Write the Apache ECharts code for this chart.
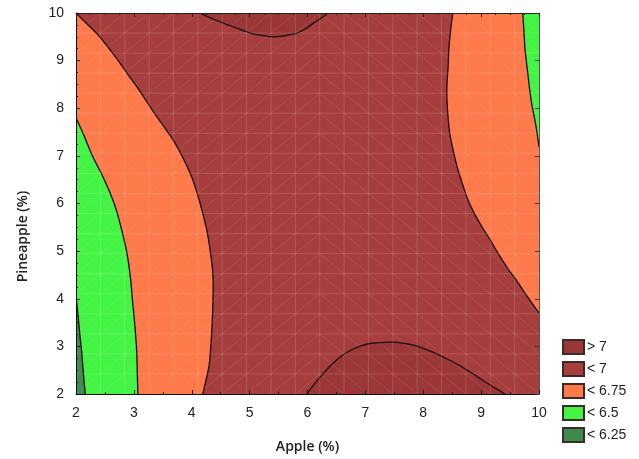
<!DOCTYPE html>
<html>
<head>
<meta charset="utf-8">
<script src="https://cdn.jsdelivr.net/npm/echarts@6/dist/echarts.min.js"></script>
<style>html,body{margin:0;padding:0;background:#fff}#c{width:639px;height:459px}</style>
</head>
<body>
<div id="c"></div>
<script>
// ---- data ----
const xTicks = [2, 3, 4, 5, 6, 7, 8, 9, 10];
const yTicks = [2, 3, 4, 5, 6, 7, 8, 9, 10];
const xName = 'Apple (%)';
const yName = 'Pineapple (%)';
const bandNames = ['> 7', '< 7', '< 6.75', '< 6.5', '< 6.25'];
const bandColors = ['#9c3737', '#a63e3e', '#ff7a4b', '#44f444', '#3f8a4f'];

// contour lines (x = Apple %, y = Pineapple %)
const line7Top = [[4.14,10],[4.35,9.88],[4.54,9.79],[4.78,9.68],[5.01,9.58],[5.2,9.53],[5.39,9.5],[5.6,9.52],[5.8,9.57],[5.98,9.68],[6.12,9.8],[6.27,9.92],[6.35,10]];
const line7Bottom = [[5.99,2],[6.1,2.18],[6.22,2.36],[6.4,2.6],[6.61,2.82],[6.8,2.95],[7.03,3.05],[7.25,3.08],[7.48,3.09],[7.65,3.07],[7.82,3.03],[8.08,2.92],[8.34,2.78],[8.55,2.65],[8.76,2.5],[8.93,2.37],[9.1,2.23],[9.25,2.12],[9.41,2]];
const line675Left = [[2.0,10],[2.2,9.76],[2.41,9.5],[2.65,9.13],[2.88,8.74],[3.08,8.4],[3.28,8.03],[3.48,7.68],[3.68,7.33],[3.86,6.93],[4.02,6.49],[4.15,5.98],[4.26,5.44],[4.32,5.0],[4.36,4.6],[4.37,4.25],[4.36,3.7],[4.34,3.2],[4.3,2.6],[4.19,2]];
const line675Right = [[8.51,10],[8.47,9.6],[8.44,9.2],[8.43,8.87],[8.41,8.5],[8.41,8.17],[8.43,7.8],[8.46,7.45],[8.52,7.1],[8.59,6.75],[8.68,6.4],[8.78,6.05],[8.9,5.75],[9.02,5.5],[9.15,5.25],[9.33,4.88],[9.48,4.6],[9.62,4.37],[9.74,4.15],[9.86,3.94],[10,3.7]];
const line65Left = [[2.0,7.8],[2.14,7.42],[2.29,6.98],[2.45,6.6],[2.59,6.22],[2.7,5.85],[2.79,5.44],[2.88,4.96],[2.94,4.45],[2.98,3.91],[3.02,3.4],[3.05,2.86],[3.06,2.4],[3.07,2]];
const line65Right = [[9.72,10],[9.74,9.6],[9.76,9.22],[9.8,8.8],[9.84,8.38],[9.88,8.05],[9.93,7.75],[9.97,7.45],[10,7.19]];
const line625Left = [[2.0,4.04],[2.04,3.6],[2.07,3.2],[2.1,2.86],[2.13,2.4],[2.16,2]];

// domain corners used to close filled bands
const xMin = 2, xMax = 10, yMin = 2, yMax = 10;

// regions: band index, contour line, closing corner points
const regions = [
  { band: 1, line: null, close: [[xMin,yMin],[xMax,yMin],[xMax,yMax],[xMin,yMax]] },
  { band: 0, line: line7Top, close: [] },
  { band: 0, line: line7Bottom, close: [] },
  { band: 2, line: line675Left, close: [[xMin,yMin]] },
  { band: 2, line: line675Right, close: [[xMax,yMax]] },
  { band: 3, line: line65Left, close: [[xMin,yMin]] },
  { band: 3, line: line65Right, close: [[xMax,yMax]] },
  { band: 4, line: line625Left, close: [[xMin,yMin]] }
];

// mesh (as drawn by the original software)
const meshCells = 19;
const meshTurn = 10;

const chart = echarts.init(document.getElementById('c'), null, { renderer: 'canvas' });

function bandSeries(b) {
  const mine = regions.filter(r => r.band === b);
  return {
    name: bandNames[b],
    type: 'custom',
    xAxisIndex: 0, yAxisIndex: 0,
    z: 2 + (b === 1 ? 0 : b === 0 ? 1 : b),
    itemStyle: { color: bandColors[b], borderColor: '#3a2a2a', borderWidth: 1 },
    clip: true,
    data: mine.map(r => (r.line ? r.line[0] : r.close[0])),
    renderItem: function (params, api) {
      const r = mine[params.dataIndex];
      const pts = (r.line || []).concat(r.close).map(p => api.coord(p));
      const children = [{
        type: 'polygon',
        shape: { points: pts },
        style: { fill: bandColors[b], stroke: null }
      }];
      if (r.line) {
        children.push({
          type: 'polyline',
          shape: { points: r.line.map(p => api.coord(p)), smooth: 0.25 },
          style: { stroke: '#1a0c0c', lineWidth: 1.3, fill: null }
        });
      }
      return { type: 'group', children: children };
    }
  };
}

function seg(api, p, q, stroke) {
  const a = api.coord(p), b = api.coord(q);
  return { type: 'line', shape: { x1: a[0], y1: a[1], x2: b[0], y2: b[1] }, style: { stroke: stroke, lineWidth: 1 } };
}

const meshSeries = {
  type: 'custom',
  xAxisIndex: 2, yAxisIndex: 2,
  z: 20,
  silent: true,
  data: [[0, 0]],
  renderItem: function (params, api) {
    const ch = [];
    const g = 'rgba(255,255,255,0.14)', d = 'rgba(255,255,255,0.09)';
    for (let i = 1; i < meshCells; i++) {
      ch.push(seg(api, [i, 0], [i, meshCells], g));
      ch.push(seg(api, [0, i], [meshCells, i], g));
    }
    for (let i = 0; i < meshCells; i++) {
      for (let j = 0; j < meshCells; j++) {
        if (i < meshTurn) ch.push(seg(api, [i, j], [i + 1, j + 1], d));
        else ch.push(seg(api, [i, j + 1], [i + 1, j], d));
      }
    }
    return { type: 'group', children: ch };
  }
};

const labelFont = { fontFamily: 'Liberation Sans', fontSize: 14, color: '#222' };

chart.setOption({
  animation: false,
  backgroundColor: '#fff',
  grid: { left: 76, right: 100, top: 13, bottom: 65, containLabel: false },
  legend: {
    data: bandNames,
    orient: 'vertical',
    left: 557, top: 334,
    itemWidth: 21, itemHeight: 14, itemGap: 6,
    icon: 'rect',
    textStyle: { fontFamily: 'Liberation Sans', fontSize: 14, color: '#222', padding: [0,0,0,-2] },
    selectedMode: false
  },
  xAxis: [
    {
      type: 'value', min: xMin, max: xMax, interval: 1, position: 'bottom',
      name: xName, nameLocation: 'middle', nameGap: 46,
      nameTextStyle: { fontFamily: 'Open Sans', fontSize: 14, fontWeight: 600, color: '#222' },
      axisLine: { show: true, onZero: false, lineStyle: { color: '#111', width: 1 } },
      axisTick: { show: true, inside: true, length: 4, lineStyle: { color: '#111' } },
      minorTick: { show: true, splitNumber: 2, length: 2, lineStyle: { color: '#111' } },
      axisLabel: Object.assign({ margin: 12, formatter: v => (xTicks.indexOf(v) >= 0 ? String(v) : '') }, labelFont),
      splitLine: { show: false }, z: 30
    },
    {
      type: 'value', min: xMin, max: xMax, interval: 1, position: 'top',
      axisLine: { show: true, onZero: false, lineStyle: { color: '#222', width: 1 } },
      axisTick: { show: true, inside: true, length: 4, lineStyle: { color: '#222' } },
      minorTick: { show: true, splitNumber: 4, length: 2, lineStyle: { color: '#222' } },
      axisLabel: { show: false }, splitLine: { show: false }, z: 30
    },
    { type: 'value', min: 0, max: meshCells, show: false }
  ],
  yAxis: [
    {
      type: 'value', min: yMin, max: yMax, interval: 1, position: 'left',
      name: yName, nameLocation: 'middle', nameGap: 46,
      nameTextStyle: { fontFamily: 'Open Sans', fontSize: 14, fontWeight: 600, color: '#222', padding: [0, 66, 0, 0] },
      axisLine: { show: true, onZero: false, lineStyle: { color: '#111', width: 1 } },
      axisTick: { show: true, inside: true, length: 4, lineStyle: { color: '#111' } },
      minorTick: { show: true, splitNumber: 4, length: 2, lineStyle: { color: '#111' } },
      axisLabel: Object.assign({ margin: 12, formatter: v => (yTicks.indexOf(v) >= 0 ? String(v) : '') }, labelFont),
      splitLine: { show: false }, z: 30
    },
    {
      type: 'value', min: yMin, max: yMax, interval: 1, position: 'right',
      axisLine: { show: true, onZero: false, lineStyle: { color: '#555', width: 1 } },
      axisTick: { show: true, inside: true, length: 4, lineStyle: { color: '#333' } },
      minorTick: { show: false },
      axisLabel: { show: false }, splitLine: { show: false }, z: 30
    },
    { type: 'value', min: 0, max: meshCells, show: false }
  ],
  series: [bandSeries(1), bandSeries(0), bandSeries(2), bandSeries(3), bandSeries(4), meshSeries]
});
</script>
</body>
</html>
